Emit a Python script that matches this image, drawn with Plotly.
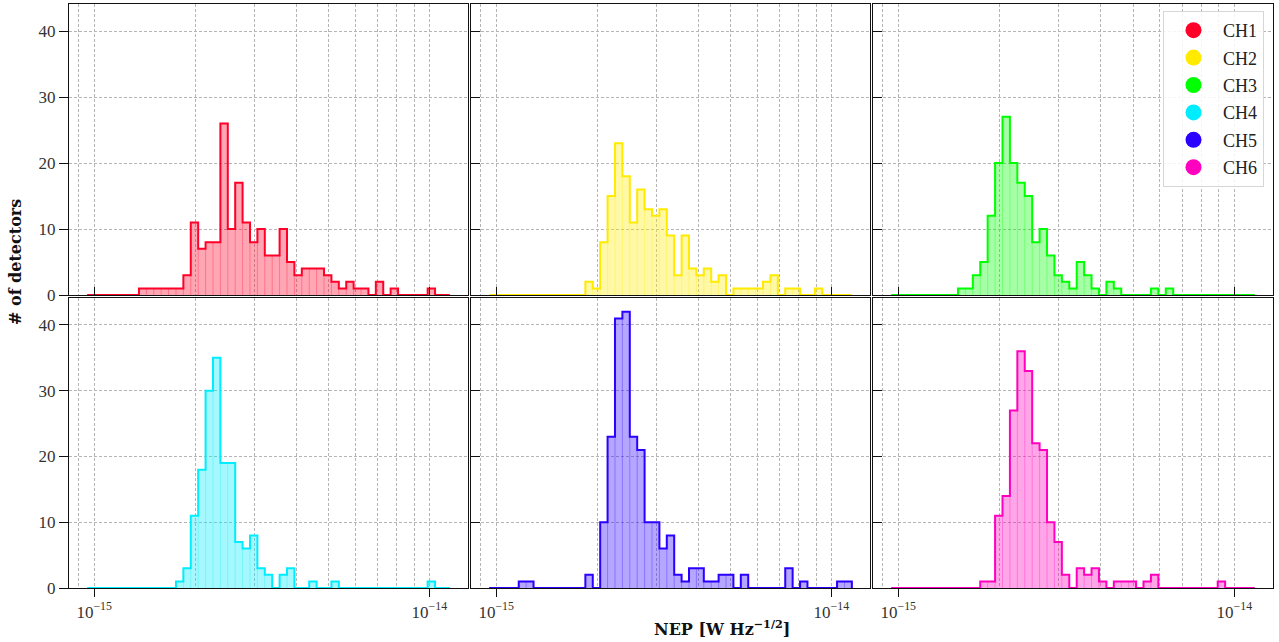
import numpy as np
import plotly.graph_objects as go

# ---- data (counts per log-spaced NEP bin) ----
channel_names = ["CH1", "CH2", "CH3", "CH4", "CH5", "CH6"]
channel_colors = [(255, 0, 41), (255, 234, 0), (0, 255, 0),
                  (0, 236, 255), (42, 0, 255), (255, 0, 191)]

log_nep_min = -15.021
log_nep_max = -13.939
n_bins = 49

ch1_counts = [0, 0, 0, 0, 0, 0, 0, 1, 1, 1, 1, 1, 1, 3, 11, 7, 8, 8, 26, 10, 17, 11, 8, 10, 6,
              6, 10, 5, 3, 4, 4, 4, 3, 2, 1, 2, 1, 1, 0, 2, 0, 1, 0, 0, 0, 0, 1, 0, 0]
ch2_counts = [0, 0, 0, 0, 0, 0, 0, 0, 0, 0, 0, 0, 0, 2, 1, 8, 15, 23, 18, 11, 16, 13, 12, 13, 9,
              3, 9, 4, 3, 4, 2, 3, 0, 1, 1, 1, 1, 2, 3, 0, 1, 1, 0, 0, 1, 0, 0, 0, 0]
ch3_counts = [0, 0, 0, 0, 0, 0, 0, 0, 0, 1, 1, 3, 5, 12, 20, 27, 20, 17, 15, 8, 10, 6, 3, 2, 1,
              5, 3, 1, 0, 2, 1, 0, 0, 0, 0, 1, 0, 1, 0, 0, 0, 0, 0, 0, 0, 0, 0, 0, 0]
ch4_counts = [0, 0, 0, 0, 0, 0, 0, 0, 0, 0, 0, 0, 1, 3, 11, 18, 30, 35, 19, 19, 7, 6, 8, 3, 2,
              0, 2, 3, 0, 0, 1, 0, 0, 1, 0, 0, 0, 0, 0, 0, 0, 0, 0, 0, 0, 0, 1, 0, 0]
ch5_counts = [0, 0, 0, 0, 1, 1, 0, 0, 0, 0, 0, 0, 0, 2, 0, 10, 23, 41, 42, 23, 21, 10, 10, 6, 8,
              2, 1, 3, 3, 1, 1, 2, 2, 0, 2, 0, 0, 0, 0, 0, 3, 0, 1, 0, 0, 0, 0, 1, 1]
ch6_counts = [0, 0, 0, 0, 0, 0, 0, 0, 0, 0, 0, 0, 1, 1, 11, 14, 27, 36, 33, 22, 21, 10, 7, 2, 0,
              3, 2, 3, 1, 0, 1, 1, 1, 0, 1, 2, 0, 0, 0, 0, 0, 0, 0, 0, 1, 0, 0, 0, 0]

all_counts = [ch1_counts, ch2_counts, ch3_counts, ch4_counts, ch5_counts, ch6_counts]

x_tick_vals = [1e-15, 1e-14]
x_tick_text = ["10<sup>\u221215</sup>", "10<sup>\u221214</sup>"]
x_minor_vals = [9e-16, 2e-15, 3e-15, 4e-15, 5e-15, 6e-15, 7e-15, 8e-15, 9e-15]
y_tick_vals = [0, 10, 20, 30, 40]

x_label = "<b>NEP [W Hz<sup>\u22121/2</sup>]</b>"
y_label = "<b># of detectors</b>"

# ---- layout geometry (pixel positions measured from the top-left) ----
W, H = 1279, 642
col_px = [(69, 468), (471, 870), (873, 1273)]
row_px = [(4, 295), (298, 588)]
FONT = "Liberation Serif"
BOLD_FONT = "DejaVu Serif"

edges = np.logspace(log_nep_min, log_nep_max, n_bins + 1)
span = log_nep_max - log_nep_min
x_range = [log_nep_min - 0.05 * span, log_nep_max + 0.05 * span]
y_max = max(max(c) for c in all_counts) * 1.05

fig = go.Figure()


def rgba(c, a):
    return f"rgba({c[0]},{c[1]},{c[2]},{a})"


for k, (name, col, counts) in enumerate(zip(channel_names, channel_colors, all_counts)):
    idx = k + 1
    xa = "x" if idx == 1 else f"x{idx}"
    ya = "y" if idx == 1 else f"y{idx}"
    counts = np.asarray(counts, dtype=float)

    step_x = np.concatenate([[edges[0]], edges, [edges[-1]]])
    step_y = np.concatenate([[0], counts, [counts[-1]], [0]])

    # filled area
    fig.add_trace(go.Scatter(
        x=step_x, y=step_y, mode="lines", line=dict(width=0, shape="hv"),
        fill="tozeroy", fillcolor=rgba(col, 0.35), xaxis=xa, yaxis=ya,
        showlegend=False, hoverinfo="skip"))

    # faint interior bin edges
    seg_x, seg_y = [], []
    for i in range(1, n_bins):
        h = min(counts[i - 1], counts[i])
        if h > 0:
            seg_x += [edges[i], edges[i], None]
            seg_y += [0, h, None]
    fig.add_trace(go.Scatter(
        x=seg_x, y=seg_y, mode="lines", line=dict(width=1, color=rgba(col, 0.3)),
        xaxis=xa, yaxis=ya, showlegend=False, hoverinfo="skip"))

    # step outline
    fig.add_trace(go.Scatter(
        x=step_x, y=step_y, mode="lines",
        line=dict(width=2, color=rgba(col, 1), shape="hv"),
        xaxis=xa, yaxis=ya, showlegend=False, hoverinfo="skip"))

# legend entries
for k, (name, col) in enumerate(zip(channel_names, channel_colors)):
    fig.add_trace(go.Scatter(
        x=[None], y=[None], mode="markers", name=name,
        marker=dict(size=18, color=rgba(col, 1), symbol="circle"),
        legendgroup=name, xaxis="x3", yaxis="y3"))

grid_col = "#b5b5b5"
grid_dash = "3px,2px"
layout = dict(
    width=W, height=H, margin=dict(l=0, r=0, t=0, b=0, autoexpand=False),
    paper_bgcolor="white", plot_bgcolor="white",
    font=dict(family=FONT, size=17, color="#222"),
    showlegend=True,
    legend=dict(x=1264 / W, y=1 - 11 / H, xanchor="right", yanchor="top",
                bgcolor="rgba(255,255,255,0.85)", bordercolor="#d6d6d6", borderwidth=1,
                font=dict(family=FONT, size=18, color="#222"),
                tracegroupgap=1, itemwidth=49, traceorder="grouped"),
)

for k in range(6):
    idx = k + 1
    r, c = divmod(k, 3)
    x0, x1 = col_px[c]
    y0, y1 = row_px[r]
    xkey = "xaxis" if idx == 1 else f"xaxis{idx}"
    ykey = "yaxis" if idx == 1 else f"yaxis{idx}"
    anchor_y = "y" if idx == 1 else f"y{idx}"
    anchor_x = "x" if idx == 1 else f"x{idx}"
    bottom = r == 1
    left = c == 0
    layout[xkey] = dict(
        type="log", range=x_range, domain=[x0 / W, x1 / W], anchor=anchor_y,
        automargin=False,
        showline=True, linecolor="#111", linewidth=1.4, mirror=True,
        tickmode="array", tickvals=x_tick_vals, ticktext=x_tick_text,
        ticks="outside" if bottom else "inside", ticklen=8, tickwidth=1.3, tickcolor="#111",
        showticklabels=bottom, tickfont=dict(family=FONT, size=17, color="#333"),
        showgrid=True, gridcolor=grid_col, griddash=grid_dash, gridwidth=0.8,
        minor=dict(tickmode="array", tickvals=x_minor_vals, showgrid=True,
                   gridcolor=grid_col, griddash=grid_dash, gridwidth=0.8, ticks=""),
        zeroline=False, fixedrange=True)
    layout[ykey] = dict(
        range=[0, y_max], domain=[1 - y1 / H, 1 - y0 / H], anchor=anchor_x,
        automargin=False,
        showline=True, linecolor="#111", linewidth=1.4, mirror=True,
        tickmode="array", tickvals=y_tick_vals,
        ticks="outside" if left else "inside", ticklen=9, tickwidth=1.3, tickcolor="#111",
        showticklabels=left, tickfont=dict(family=FONT, size=17, color="#333"),
        showgrid=True, gridcolor=grid_col, griddash=grid_dash, gridwidth=0.8,
        zeroline=False, fixedrange=True)

fig.update_layout(**layout)

fig.add_annotation(text=x_label, x=652 / W, y=1 - 628 / H, xref="paper", yref="paper",
                   showarrow=False, font=dict(family=BOLD_FONT, size=16, color="#111"),
                   xanchor="left", yanchor="middle")
fig.add_annotation(text=y_label, x=16 / W, y=1 - 262 / H, xref="paper", yref="paper",
                   showarrow=False, textangle=-90,
                   font=dict(family=BOLD_FONT, size=16, color="#111"),
                   xanchor="center", yanchor="middle")

fig.write_html("out.html")
